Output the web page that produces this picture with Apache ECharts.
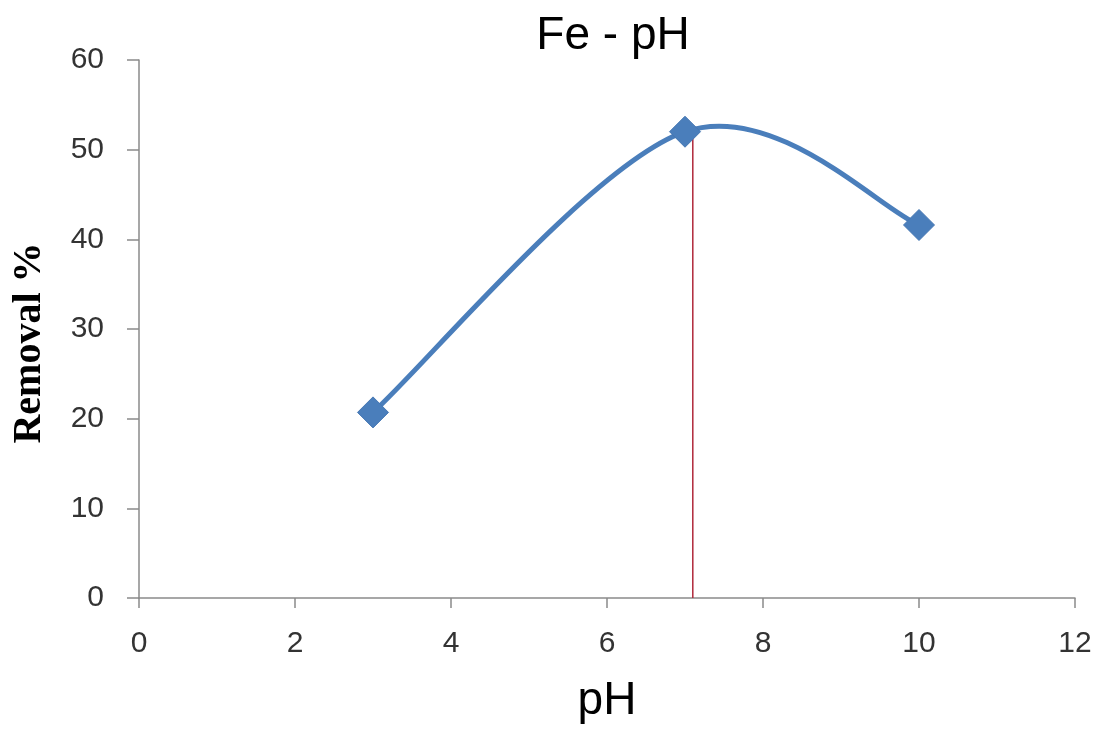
<!DOCTYPE html>
<html>
<head>
<meta charset="utf-8">
<script src="https://cdn.jsdelivr.net/npm/echarts@6/dist/echarts.min.js"></script>
<style>
html,body{margin:0;padding:0;background:#fff;}
#chart{width:1105px;height:733px;}
</style>
</head>
<body>
<div id="chart"></div>
<script>
const titleText = 'Fe - pH';
const xName = 'pH';
const yName = 'Removal %';
const phValues = [3, 7, 10];
const removalValues = [20.7, 52.0, 41.6];
const refLineX = 7.1;
const refLineTop = 52.5;
const xMin = 0, xMax = 12, xStep = 2;
const yMin = 0, yMax = 60, yStep = 10;

const seriesData = phValues.map((x, i) => [x, removalValues[i]]);
const refLineData = [[refLineX, 0], [refLineX, refLineTop]];

const lineColor = '#4a7ebb';

// Smooth curve through the data points (Catmull-Rom style, like a spreadsheet "smoothed line"),
// drawn in pixel space from the library's own coordinate conversion.
function renderSmooth(params, api) {
  if (params.dataIndex !== 0) return null;
  const pts = seriesData.map(d => api.coord(d));
  const n = pts.length;
  const children = [];
  for (let i = 0; i < n - 1; i++) {
    const p0 = pts[Math.max(i - 1, 0)];
    const p1 = pts[i];
    const p2 = pts[i + 1];
    const p3 = pts[Math.min(i + 2, n - 1)];
    children.push({
      type: 'bezierCurve',
      shape: {
        x1: p1[0], y1: p1[1],
        x2: p2[0], y2: p2[1],
        cpx1: p1[0] + (p2[0] - p0[0]) / 6,
        cpy1: p1[1] + (p2[1] - p0[1]) / 6,
        cpx2: p2[0] - (p3[0] - p1[0]) / 6,
        cpy2: p2[1] - (p3[1] - p1[1]) / 6
      },
      style: {stroke: lineColor, fill: null, lineWidth: 5, lineCap: 'round'}
    });
  }
  return {type: 'group', children: children};
}

const chart = echarts.init(document.getElementById('chart'), null, {renderer: 'canvas'});
const axisColor = '#8a8a8a';
chart.setOption({
  animation: false,
  backgroundColor: '#ffffff',
  title: {
    text: titleText,
    left: 608,
    textAlign: 'center',
    top: 8,
    textStyle: {fontFamily: 'Liberation Sans', fontSize: 46, fontWeight: 'normal', color: '#000'}
  },
  grid: {left: 139, right: 30, top: 60, bottom: 135, containLabel: false, outerBoundsMode: 'none'},
  xAxis: {
    type: 'value', min: xMin, max: xMax, interval: xStep,
    name: xName, nameLocation: 'middle', nameGap: 80,
    nameTextStyle: {fontFamily: 'Liberation Sans', fontSize: 46, color: '#000'},
    axisLine: {show: true, lineStyle: {color: axisColor, width: 1.5}},
    axisTick: {show: true, length: 10, lineStyle: {color: axisColor, width: 1.5}},
    axisLabel: {margin: 31, fontFamily: 'Liberation Sans', fontSize: 30, color: '#333'},
    splitLine: {show: false}
  },
  yAxis: {
    type: 'value', min: yMin, max: yMax, interval: yStep,
    name: yName, nameLocation: 'middle', nameGap: 89,
    nameTextStyle: {fontFamily: 'Liberation Serif', fontSize: 40, fontWeight: 'bold', color: '#000', padding: [0, 28, 0, 0]},
    axisLine: {show: true, onZero: false, lineStyle: {color: axisColor, width: 1.5}},
    axisTick: {show: true, length: 12, lineStyle: {color: axisColor, width: 1.5}},
    axisLabel: {margin: 35, fontFamily: 'Liberation Sans', fontSize: 30, color: '#333'},
    splitLine: {show: false}
  },
  series: [
    {
      type: 'line',
      data: refLineData,
      symbol: 'none',
      lineStyle: {color: '#b0283a', width: 1.5},
      z: 1
    },
    {
      type: 'custom',
      data: seriesData,
      renderItem: renderSmooth,
      z: 2
    },
    {
      type: 'scatter',
      data: seriesData,
      symbol: 'diamond',
      symbolSize: 31,
      itemStyle: {color: lineColor, borderColor: '#4577b3', borderWidth: 1, opacity: 1},
      z: 3
    }
  ]
});
</script>
</body>
</html>
